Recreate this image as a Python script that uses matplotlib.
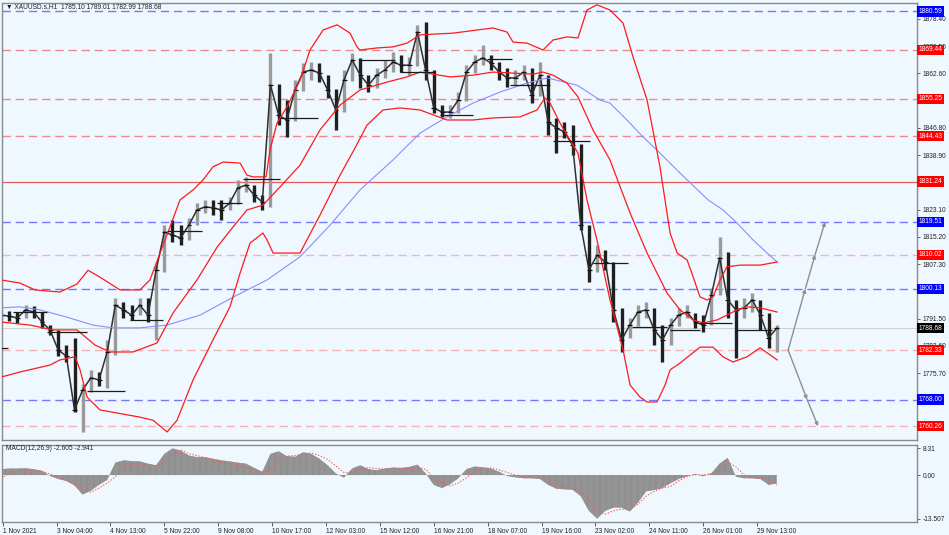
import matplotlib
matplotlib.use('Agg')
import matplotlib.pyplot as plt
import matplotlib.transforms as mtransforms

plt.rcParams['font.family'] = ['Liberation Sans', 'DejaVu Sans']
plt.rcParams['lines.scale_dashes'] = False
plt.rcParams['hatch.linewidth'] = 0.6

# XAUUSD H1, one sample every 5 bars (bar index = hours on the chart)
step = 5
close = [1792.5, 1792.2, 1791.7, 1794.0, 1793.4, 1790.5, 1788.2, 1782.4, 1780.6, 1765.0,
         1770.8, 1774.3, 1773.7, 1781.8, 1795.4, 1794.0, 1792.5, 1795.4, 1792.5, 1805.6,
         1816.6, 1815.7, 1814.9, 1818.6, 1823.0, 1823.9, 1823.6, 1823.0, 1825.0, 1829.4,
         1830.2, 1827.3, 1825.3, 1859.2, 1850.5, 1849.1, 1857.8, 1863.0, 1863.6, 1862.7,
         1857.8, 1852.0, 1860.7, 1866.5, 1862.1, 1859.2, 1862.1, 1863.6, 1865.9, 1865.0,
         1865.0, 1874.6, 1863.6, 1852.6, 1851.4, 1851.4, 1854.9, 1863.0, 1865.9, 1867.1,
         1865.6, 1863.0, 1861.3, 1861.3, 1863.0, 1856.3, 1862.1, 1848.5, 1846.8, 1845.6,
         1841.8, 1818.6, 1805.6, 1809.9, 1807.9, 1794.0, 1785.3, 1789.6, 1793.4, 1794.0,
         1788.2, 1785.3, 1789.6, 1792.5, 1793.4, 1790.5, 1789.6, 1798.3, 1809.1, 1796.9,
         1794.0, 1794.6, 1796.9, 1792.5, 1785.9, 1788.68]
high = [1794.0, 1793.7, 1793.4, 1795.4, 1795.1, 1793.4, 1789.6, 1788.2, 1783.8, 1785.9,
        1772.5, 1776.6, 1776.0, 1785.3, 1797.5, 1796.3, 1795.4, 1797.5, 1797.5, 1807.0,
        1818.6, 1820.1, 1818.6, 1820.7, 1825.0, 1825.9, 1825.9, 1825.9, 1826.8, 1831.7,
        1832.6, 1830.2, 1827.3, 1868.5, 1859.5, 1854.9, 1860.7, 1865.6, 1865.9, 1865.6,
        1862.1, 1858.0, 1863.6, 1868.5, 1867.1, 1862.1, 1864.2, 1866.5, 1868.8, 1867.9,
        1867.4, 1876.7, 1877.5, 1863.6, 1853.4, 1853.4, 1857.2, 1865.0, 1867.9, 1870.9,
        1867.9, 1865.9, 1864.2, 1863.6, 1865.0, 1864.2, 1865.9, 1862.1, 1849.7, 1848.5,
        1847.6, 1842.0, 1818.6, 1812.8, 1811.4, 1807.9, 1794.5, 1791.7, 1795.4, 1796.3,
        1794.6, 1789.6, 1791.7, 1794.6, 1795.4, 1793.1, 1792.5, 1800.4, 1815.2, 1810.8,
        1796.9, 1797.5, 1798.9, 1796.9, 1793.0, 1789.6]
low = [1791.1, 1790.8, 1790.2, 1791.7, 1791.7, 1788.8, 1786.7, 1780.6, 1778.9, 1764.4,
       1758.6, 1770.2, 1771.9, 1771.4, 1781.0, 1791.7, 1791.1, 1792.5, 1790.5, 1785.3,
       1805.0, 1813.7, 1812.8, 1814.3, 1818.6, 1822.1, 1821.5, 1820.1, 1823.0, 1824.8,
       1828.2, 1825.3, 1823.0, 1823.9, 1847.6, 1844.2, 1848.8, 1857.5, 1860.7, 1860.1,
       1855.5, 1846.2, 1851.4, 1860.5, 1858.4, 1857.2, 1858.4, 1861.3, 1863.0, 1863.0,
       1862.1, 1864.8, 1860.7, 1851.1, 1850.0, 1849.7, 1851.0, 1854.6, 1862.8, 1865.0,
       1863.6, 1860.7, 1858.7, 1859.2, 1860.7, 1854.0, 1856.0, 1844.7, 1839.5, 1843.9,
       1838.9, 1817.2, 1802.1, 1805.0, 1805.6, 1790.5, 1781.8, 1785.9, 1789.3, 1791.7,
       1783.8, 1778.9, 1783.8, 1789.3, 1791.7, 1788.8, 1787.6, 1789.6, 1798.3, 1791.7,
       1780.1, 1791.7, 1793.4, 1788.2, 1783.0, 1781.8]

# Bollinger bands and moving average (bar index, price)
upper_bar = [0, 11.6, 20.8, 36.1, 46.5, 53.3, 60.6, 72.9, 85.1, 91.2, 97.4, 103.5, 109.6,
             117.6, 123.7, 129.8, 136, 146.4, 150.6, 154.3, 162.3, 164.7, 169, 175.1, 183.1,
             189.2, 197.2, 205.8, 213.7, 218, 219.8, 230.2, 240, 248.6, 256.6, 276.8, 291.5,
             301.3, 309.9, 313.5, 322.1, 331.9, 338, 346.6, 353.3, 358.8, 364.9, 372.9, 380.9,
             387, 395.6, 403.5, 407.8, 409.7, 414, 420.1, 423.8, 428, 432.3, 436, 440.3,
             444.5, 452.5, 464.8, 475.2]
upper_px = [1802.7, 1801.8, 1799.8, 1799.2, 1801.5, 1805.5, 1803.5, 1799.8, 1799.8, 1802.7,
            1810.5, 1818.1, 1825.9, 1828.8, 1831.7, 1835.5, 1836.9, 1836.6, 1833.1, 1832.6,
            1832.6, 1840.4, 1848.2, 1852.9, 1860.7, 1869.4, 1875.2, 1876.7, 1874.3, 1870.3,
            1869.4, 1870.0, 1870.3, 1871.4, 1873.8, 1874.3, 1875.2, 1875.8, 1874.6, 1871.7,
            1871.4, 1869.4, 1872.3, 1873.2, 1872.9, 1881.0, 1882.5, 1881.0, 1877.2, 1867.4,
            1854.9, 1835.5, 1822.1, 1816.3, 1810.5, 1808.5, 1803.6, 1797.8, 1796.9, 1797.8,
            1802.7, 1806.5, 1807.0, 1807.0, 1807.9]
mid_bar = [0, 17.8, 31.8, 46.5, 57.6, 66.7, 80.8, 95.5, 105.3, 120, 132.3, 142.1, 150.6,
           160.4, 170.9, 183.1, 195.3, 207.6, 219.8, 236.4, 248.6, 256.6, 275, 289, 301.3,
           313.5, 325.8, 331.9, 338, 346.6, 353.3, 362.5, 372.9, 385.2, 395.6, 407.8, 415.8,
           423.8, 429.9, 438.5, 444.5, 450.7, 456.8, 464.8, 475.2]
mid_px = [1790.5, 1789.6, 1788.2, 1788.2, 1783.8, 1781.8, 1781.8, 1784.4, 1793.1, 1802.7,
          1812.2, 1818.1, 1823.0, 1824.4, 1829.7, 1836.0, 1846.2, 1853.4, 1857.8, 1860.1,
          1861.6, 1863.0, 1861.6, 1862.1, 1863.0, 1862.7, 1862.4, 1863.0, 1862.1, 1859.8,
          1855.8, 1846.2, 1837.5, 1822.1, 1810.5, 1798.9, 1794.0, 1791.1, 1790.2, 1791.1,
          1792.5, 1794.0, 1794.9, 1794.6, 1793.4]
lower_bar = [0, 11.6, 30, 36.1, 45.3, 48.4, 52.7, 60.6, 71, 85.1, 93.1, 101.7, 107.8, 117.6,
             129.8, 140.2, 146.4, 152.5, 160.4, 162.9, 166.6, 175.1, 183.1, 195.3, 207.6,
             216.8, 224.1, 233.9, 244.3, 256.6, 273.1, 289, 301.3, 317.8, 328.2, 333.1,
             336.2, 342.3, 348.4, 353.3, 358.8, 364.9, 372.9, 380.9, 385.2, 391.3, 395.6,
             401.7, 406.6, 409.7, 415.8, 428, 436, 442.1, 448.2, 456.8, 464.8, 475.2]
lower_px = [1774.5, 1776.0, 1778.0, 1779.5, 1780.4, 1776.6, 1768.7, 1765.0, 1764.1, 1762.9,
            1762.0, 1758.6, 1762.0, 1773.7, 1785.3, 1794.9, 1804.7, 1813.4, 1816.3, 1814.3,
            1810.5, 1810.5, 1810.5, 1821.5, 1833.1, 1841.0, 1847.6, 1852.0, 1852.6, 1852.0,
            1849.1, 1849.1, 1849.7, 1850.0, 1852.0, 1855.5, 1854.0, 1848.2, 1843.3, 1839.5,
            1825.9, 1814.3, 1796.9, 1782.4, 1772.2, 1768.7, 1767.3, 1767.3, 1772.2, 1776.6,
            1778.6, 1783.2, 1783.2, 1780.4, 1778.9, 1780.4, 1783.0, 1779.5]
ma_bar = [0, 11.6, 23.9, 40.4, 56.3, 68.6, 85.1, 101.7, 121.9, 142.1, 162.9, 183.1, 201.5,
          219.8, 240, 256.6, 273.1, 289, 305.6, 322.1, 334.4, 342.3, 352.7, 366.8, 372.9,
          383.3, 393.1, 403.5, 415.8, 433, 442.1, 450.7, 460.5, 469.1, 475.2]
ma_px = [1794.6, 1794.9, 1794.0, 1791.9, 1789.6, 1788.8, 1788.8, 1789.6, 1792.5, 1797.7,
         1802.7, 1809.4, 1818.6, 1828.8, 1837.5, 1845.3, 1850.0, 1854.0, 1857.2, 1859.8,
         1861.3, 1860.4, 1859.2, 1854.9, 1854.0, 1849.1, 1844.2, 1839.5, 1833.7, 1825.9,
         1823.0, 1819.2, 1814.3, 1810.5, 1807.9]

# short black daily level segments
seg_start = [0, 7.3, 28.2, 52.7, 79, 101.7, 132.3, 148.2, 170.9, 219.8, 244.3, 268.8,
             297.6, 311.7, 338, 362.5, 386.4, 409.7, 428, 449.5]
seg_end = [4.3, 28.2, 52.7, 75.9, 99.2, 123.1, 147.6, 170.9, 194.1, 241.3, 265.8, 289,
           312.9, 336.2, 360.7, 384, 407.8, 428, 447.6, 472.1]
seg_price = [1783.0, 1793.4, 1787.6, 1770.5, 1791.1, 1816.9, 1825.0, 1832.0, 1849.7,
             1866.5, 1863.0, 1850.5, 1866.8, 1859.2, 1843.0, 1807.6, 1789.0, 1788.2,
             1790.2, 1788.2]

# horizontal levels
blue_levels = [1880.59, 1819.51, 1800.13, 1768.00]
red_levels = [1869.44, 1855.25, 1844.43]
pink_levels = [1810.02, 1782.33, 1760.26]
solid_level = 1831.24
last_price = 1788.68

# projection arrows
up_bar = [482, 492.5, 498.5, 504.6]
up_px = [1782.33, 1800.13, 1810.02, 1819.51]
down_bar = [482, 493.6, 500.3]
down_px = [1782.33, 1768.00, 1760.26]

# MACD(12,26,9)
macd = [1.8, 2.0, 2.0, 2.1, 1.8, 1.3, -0.3, -1.2, -1.8, -3.2,
        -6.0, -4.8, -3.0, -1.5, 3.8, 4.5, 4.3, 4.2, 3.5, 3.0,
        6.5, 8.2, 7.5, 6.0, 5.5, 5.5, 5.0, 4.5, 4.2, 3.8,
        3.5, 2.2, 1.0, 6.5, 7.3, 5.8, 5.6, 7.0, 6.5, 5.0,
        3.0, 0.5, -0.8, 2.0, 3.0, 1.8, 1.5, 2.0, 2.3, 2.2,
        2.5, 3.2, 0.5, -3.0, -4.0, -2.8, -1.0, 1.8, 2.6, 2.4,
        2.0, 1.0, -0.3, -0.7, -1.0, -1.0, -1.2, -3.0, -4.2, -4.4,
        -4.5, -6.5, -11.0, -13.4, -11.0, -10.0, -10.0, -11.2, -8.5, -5.0,
        -4.6, -4.0, -2.5, -1.2, -0.4, 0.3, -0.4, 0.5, 3.5, 5.3,
        -0.5, -1.0, -1.0, -1.2, -3.0, -2.605]
signal = [-1.0, 0.5, 1.0, 1.4, 1.5, 1.2, 0.3, -0.5, -1.8, -2.7,
          -4.0, -5.3, -4.0, -2.5, -0.5, 2.5, 3.5, 3.3, 2.9, 2.8,
          4.0, 6.5, 7.8, 6.5, 6.0, 5.3, 4.7, 4.0, 3.5, 3.0,
          2.4, 1.7, 0.8, 1.5, 4.5, 5.8, 6.0, 6.5, 6.8, 6.0,
          4.8, 2.8, 0.8, 0.5, 1.8, 2.3, 2.0, 1.8, 1.8, 1.9,
          2.0, 2.3, 1.8, -0.8, -2.5, -3.3, -2.5, -0.8, 1.0, 2.0,
          2.2, 1.6, 0.8, 0.0, -0.5, -0.7, -0.9, -1.5, -2.8, -3.8,
          -4.3, -5.0, -7.5, -11.0, -12.0, -11.0, -10.5, -10.5, -9.0, -6.5,
          -5.0, -4.0, -3.5, -1.8, -0.5, 0.2, 0.0, 0.5, 1.5, 4.0,
          2.5, 0.0, -0.8, -1.0, -1.5, -2.941]

tick_bars = [1, 34, 67, 100, 133, 166, 199, 232, 265, 298, 331, 364, 397, 430, 463]
tick_labels = ['1 Nov 2021', '3 Nov 04:00', '4 Nov 13:00', '5 Nov 22:00', '9 Nov 08:00',
               '10 Nov 17:00', '12 Nov 03:00', '15 Nov 12:00', '16 Nov 21:00',
               '18 Nov 07:00', '19 Nov 16:00', '23 Nov 02:00', '24 Nov 11:00',
               '26 Nov 01:00', '29 Nov 13:00']
price_ticks = [1878.40, 1870.50, 1862.60, 1846.80, 1838.90, 1823.10, 1815.20, 1807.30,
               1791.50, 1783.60, 1775.70]

bg = '#f0f8ff'
frame = '#8a8a8a'
fs = 4.8

fig = plt.figure(figsize=(9.49, 5.35), dpi=100, facecolor=bg)
ax = fig.add_axes([0.0021, 0.1776, 0.9642, 0.8168], facecolor=bg)
ax2 = fig.add_axes([0.0021, 0.0243, 0.9642, 0.1439], facecolor=bg, sharex=ax)

bars = [i * step for i in range(len(close))]
opens = [close[0]] + close[:-1]

# levels
for lv in blue_levels:
    ax.axhline(lv, color='#7878ff', lw=1.0, dashes=(6, 3.5), zorder=1)
for lv in red_levels:
    ax.axhline(lv, color='#f08a8a', lw=1.0, dashes=(6, 3.5), zorder=1)
for lv in pink_levels:
    ax.axhline(lv, color='#f5b4b4', lw=1.0, dashes=(6, 3.5), zorder=1)
ax.axhline(solid_level, color='#e85a5a', lw=0.9, zorder=1)
ax.axhline(last_price, color='#cfcfcf', lw=0.7, zorder=1)

# price bars
cols = ['#9a9a9a' if c >= o else '#202020' for o, c in zip(opens, close)]
ax.vlines(bars, low, high, colors=cols, lw=2.4, zorder=2)
ax.plot(bars, close, color='#303030', lw=1.1, zorder=2)
ax.hlines(close, [b - 1.4 for b in bars], [b + 1.6 for b in bars], colors='#111111',
          lw=0.9, zorder=2)

# indicators
ax.plot(ma_bar, ma_px, color='#8c8cff', lw=0.8, zorder=3)
ax.plot(upper_bar, upper_px, color='#ff1a1a', lw=0.9, zorder=3)
ax.plot(mid_bar, mid_px, color='#ff1a1a', lw=0.9, zorder=3)
ax.plot(lower_bar, lower_px, color='#ff1a1a', lw=0.9, zorder=3)
ax.hlines(seg_price, seg_start, seg_end, colors='#1a1a1a', lw=0.9, zorder=4)

# arrows
for path_b, path_p in [(up_bar, up_px), (down_bar, down_px)]:
    for i in range(1, len(path_b)):
        ax.annotate('', xy=(path_b[i], path_p[i]), xytext=(path_b[i - 1], path_p[i - 1]),
                    arrowprops=dict(arrowstyle='-|>', color='#8f8f8f', lw=1.0,
                                    mutation_scale=5, shrinkA=0, shrinkB=0), zorder=4)

ax.set_xlim(0.6, 560.9)
ax.set_ylim(1756.27, 1883.04)
ax.yaxis.tick_right()
ax.set_yticks(price_ticks)
ax.set_yticklabels([f'{p:.2f}' for p in price_ticks])
ax.tick_params(axis='y', length=2.5, width=0.6, color='#444444', labelsize=fs,
               labelcolor='#222222', pad=1.5)
ax.tick_params(axis='x', bottom=False, labelbottom=False)

trans = mtransforms.blended_transform_factory(ax.transAxes, ax.transData)
boxes = ([(lv, '#0000ff') for lv in blue_levels] + [(lv, '#ff0000') for lv in red_levels]
         + [(lv, '#ff0000') for lv in pink_levels] + [(solid_level, '#ff0000'),
                                                        (last_price, '#000000')])
for lv, c in boxes:
    ax.text(1.0015, lv, f'{lv:.2f}', transform=trans, ha='left', va='center', fontsize=fs,
            color='white', zorder=10, clip_on=False,
            bbox=dict(boxstyle='square,pad=0.25', fc=c, ec='none'))

ax.text(0.004, 0.993, '\u25bc XAUUSD.s,H1  1785.10 1789.01 1782.99 1788.68',
        transform=ax.transAxes, ha='left', va='center', fontsize=fs, color='#222222')

# MACD panel
ax2.fill_between(bars, 0, macd, facecolor='#a8a8a8', edgecolor='#8a8a8a',
                 hatch='|' * 14, lw=0, zorder=2)
ax2.plot(bars, signal, color='#ff5a5a', lw=0.8, ls=(0, (1, 1.2)), zorder=3)
ax2.set_ylim(-14.43, 9.23)
ax2.yaxis.tick_right()
ax2.set_yticks([8.31, 0.0, -13.507])
ax2.set_yticklabels(['8.31', '0.00', '-13.507'])
ax2.tick_params(axis='y', length=2.5, width=0.6, color='#444444', labelsize=fs,
                labelcolor='#222222', pad=1.5)
ax2.set_xticks(tick_bars)
ax2.set_xticklabels(tick_labels)
ax2.tick_params(axis='x', length=3, width=0.6, color='#444444', labelsize=fs,
                labelcolor='#222222', pad=1.5)
for lab in ax2.get_xticklabels():
    lab.set_ha('left')
ax2.text(0.004, 0.955, 'MACD(12,26,9) -2.605 -2.941', transform=ax2.transAxes,
         ha='left', va='center', fontsize=fs, color='#222222')

for a in (ax, ax2):
    for s in a.spines.values():
        s.set_color(frame)
        s.set_linewidth(1.0)

fig.savefig('out.png', dpi=100, facecolor=bg)
